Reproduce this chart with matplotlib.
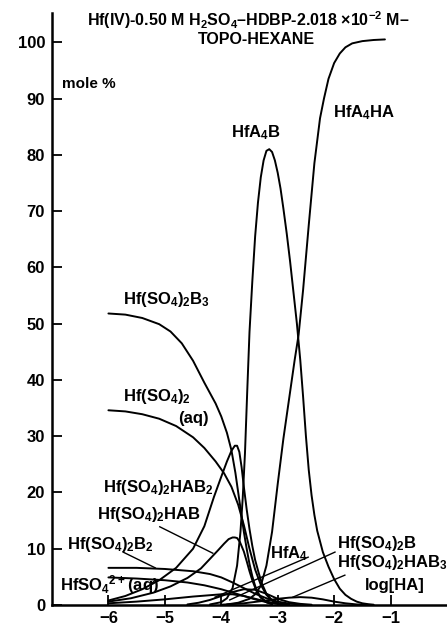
import matplotlib
matplotlib.use('Agg')
import matplotlib.pyplot as plt

plt.rcParams['font.family'] = ['Liberation Sans', 'DejaVu Sans']
plt.rcParams['font.weight'] = 'bold'
plt.rcParams['mathtext.fontset'] = 'custom'
plt.rcParams['mathtext.rm'] = 'Liberation Sans:bold'
plt.rcParams['mathtext.default'] = 'regular'

# species distribution vs log[HA], mole %
x_b3 = [-6.0, -5.7, -5.4, -5.1, -4.9, -4.7, -4.5, -4.3, -4.1, -4.0, -3.9, -3.82, -3.75, -3.7,
        -3.65, -3.6, -3.55, -3.5, -3.45, -3.4, -3.35, -3.3, -3.2, -3.1]
y_b3 = [51.8, 51.6, 51.0, 49.9, 48.6, 46.5, 43.4, 39.5, 35.8, 33.5, 30.6, 27.5, 23.5, 20.0,
        16.5, 13.0, 10.0, 7.3, 5.1, 3.4, 2.2, 1.4, 0.5, 0.15]

x_aq = [-6.0, -5.7, -5.4, -5.1, -4.8, -4.5, -4.3, -4.1, -3.95, -3.82, -3.7, -3.6, -3.5, -3.4,
        -3.3, -3.2, -3.1, -3.0]
y_aq = [34.6, 34.4, 33.9, 33.1, 31.8, 29.8, 27.9, 25.5, 23.4, 21.0, 17.8, 14.2, 10.0, 6.3,
        3.6, 1.8, 0.8, 0.3]

x_a4b = [-4.2, -4.0, -3.9, -3.8, -3.72, -3.66, -3.62, -3.58, -3.54, -3.5, -3.45, -3.4, -3.35,
         -3.3, -3.25, -3.2, -3.15, -3.1, -3.05, -3.0, -2.95, -2.9, -2.84, -2.78, -2.72, -2.66,
         -2.6, -2.55, -2.5, -2.45, -2.4, -2.35, -2.3, -2.2, -2.1, -2.0, -1.9, -1.8, -1.7, -1.6,
         -1.5, -1.4, -1.3]
y_a4b = [0.1, 0.5, 1.2, 3.0, 7.0, 13.0, 19.0, 27.0, 38.0, 48.5, 57.5, 65.5, 71.5,
         76.0, 79.0, 80.7, 81.0, 80.5, 79.0, 76.8, 74.0, 70.5, 66.0, 61.0, 55.5, 50.0,
         43.5, 37.0, 30.0, 24.0, 19.5, 16.0, 13.2, 9.4, 6.8, 4.6, 2.9, 1.8, 1.1, 0.6,
         0.3, 0.15, 0.05]

x_a4ha = [-3.9, -3.7, -3.5, -3.4, -3.3, -3.2, -3.1, -3.0, -2.9, -2.8, -2.7, -2.63, -2.55,
          -2.45, -2.35, -2.25, -2.18, -2.1, -2.0, -1.9, -1.8, -1.68, -1.5, -1.3, -1.1]
y_a4ha = [0.1, 0.4, 1.1, 1.9, 3.4, 7.0, 13.0, 21.5, 29.5, 36.5, 43.5, 48.0, 56.0,
          67.5, 78.5, 86.5, 90.0, 93.5, 96.3, 98.0, 99.1, 99.8, 100.2, 100.4, 100.5]

x_hab2 = [-6.0, -5.7, -5.4, -5.1, -4.8, -4.5, -4.3, -4.13, -4.0, -3.9, -3.82, -3.76, -3.72,
          -3.68, -3.64, -3.6, -3.55, -3.5, -3.45, -3.4, -3.34, -3.28, -3.2, -3.1, -3.0]
y_hab2 = [0.8, 1.6, 2.8, 4.4, 6.6, 10.0, 14.0, 19.2, 22.8, 25.5, 27.4, 28.3, 28.3,
          27.2, 24.5, 21.0, 17.0, 13.5, 10.5, 8.0, 5.8, 3.8, 2.0, 0.8, 0.3]

x_hab = [-6.0, -5.6, -5.2, -4.9, -4.6, -4.36, -4.2, -4.05, -3.95, -3.87, -3.8, -3.76, -3.72,
         -3.67, -3.6, -3.55, -3.5, -3.45, -3.4, -3.35, -3.3, -3.2, -3.1]
y_hab = [0.6, 1.2, 2.2, 3.3, 4.8, 6.5, 8.2, 9.8, 10.9, 11.7, 12.0, 12.0, 11.9,
         11.2, 9.5, 7.8, 6.0, 4.4, 3.1, 2.0, 1.3, 0.5, 0.15]

x_b2 = [-6.0, -5.5, -5.0, -4.5, -4.2, -4.0, -3.8, -3.6, -3.4, -3.2, -3.0, -2.8, -2.6]
y_b2 = [6.6, 6.6, 6.4, 6.0, 5.5, 4.9, 4.0, 3.0, 2.0, 1.2, 0.6, 0.25, 0.1]

x_so4 = [-6.0, -5.5, -5.0, -4.6, -4.3, -4.0, -3.8, -3.6, -3.4, -3.2, -3.0, -2.8]
y_so4 = [4.9, 4.7, 4.4, 4.0, 3.5, 2.8, 2.2, 1.6, 1.0, 0.5, 0.2, 0.05]

x_a4 = [-4.6, -4.4, -4.2, -4.0, -3.8, -3.6, -3.4, -3.2, -3.0, -2.8, -2.6, -2.4]
y_a4 = [0.1, 0.4, 0.9, 1.6, 2.3, 2.8, 2.7, 2.0, 1.1, 0.5, 0.2, 0.05]

x_b = [-6.0, -5.5, -5.0, -4.5, -4.0, -3.8, -3.6, -3.4, -3.2, -3.0, -2.8]
y_b = [0.3, 0.6, 1.0, 1.5, 1.9, 1.9, 1.6, 1.1, 0.6, 0.25, 0.1]

x_hab3 = [-4.0, -3.6, -3.2, -3.0, -2.8, -2.6, -2.4, -2.2, -2.0, -1.8, -1.6, -1.4]
y_hab3 = [0.05, 0.3, 0.8, 1.1, 1.3, 1.4, 1.3, 1.0, 0.6, 0.3, 0.1, 0.03]

xticks = [-6, -5, -4, -3, -2, -1]
yticks = [0, 10, 20, 30, 40, 50, 60, 70, 80, 90, 100]

fig = plt.figure(figsize=(4.47, 6.27), dpi=100)
ax = fig.add_axes([0.1163, 0.0351, 0.8837, 0.9442])

lw = 1.4
for xs, ys in [(x_b3, y_b3), (x_aq, y_aq), (x_a4b, y_a4b), (x_a4ha, y_a4ha),
               (x_hab2, y_hab2), (x_hab, y_hab), (x_b2, y_b2), (x_so4, y_so4),
               (x_a4, y_a4), (x_b, y_b), (x_hab3, y_hab3)]:
    ax.plot(xs, ys, color='black', linewidth=lw, solid_capstyle='round')

ax.set_xlim(-7, 0)
ax.set_ylim(0, 105.2)
ax.spines['top'].set_visible(False)
ax.spines['right'].set_visible(False)
ax.spines['left'].set_linewidth(1.8)
ax.spines['bottom'].set_linewidth(1.8)
ax.set_xticks(xticks)
ax.set_xticklabels(['\u2212%d' % abs(t) for t in xticks])
ax.set_yticks(yticks)
ax.tick_params(axis='both', direction='in', length=7, width=1.3, labelsize=12)
ax.tick_params(axis='y', pad=5)
ax.tick_params(axis='x', pad=4)

fs = 12
ax.text(-6.82, 92.6, 'mole %', fontsize=11, ha='left', va='center')
ax.text(-3.53, 103.9, r'Hf(IV)-0.50 M H$_2$SO$_4$–HDBP-2.018 ×10$^{-2}$ M–',
        fontsize=11.5, ha='center', va='center', clip_on=False)
ax.text(-3.37, 100.5, 'TOPO-HEXANE', fontsize=11.5, ha='center', va='center')
ax.text(-3.385, 83.9, r'HfA$_4$B', fontsize=fs, ha='center', va='center')
ax.text(-1.47, 87.4, r'HfA$_4$HA', fontsize=fs, ha='center', va='center')
ax.text(-5.74, 54.2, r'Hf(SO$_4$)$_2$B$_3$', fontsize=fs, ha='left', va='center')
ax.text(-5.74, 37.0, r'Hf(SO$_4$)$_2$', fontsize=fs, ha='left', va='center')
ax.text(-4.5, 33.2, '(aq)', fontsize=fs, ha='center', va='center')
ax.text(-6.10, 20.8, r'Hf(SO$_4$)$_2$HAB$_2$', fontsize=fs, ha='left', va='center')
ax.text(-6.20, 16.0, r'Hf(SO$_4$)$_2$HAB', fontsize=fs, ha='left', va='center')
ax.text(-6.73, 10.7, r'Hf(SO$_4$)$_2$B$_2$', fontsize=fs, ha='left', va='center')
ax.text(-6.86, 3.6, r'HfSO$_4$$^{2+}$(aq)', fontsize=fs, ha='left', va='center')
ax.text(-3.14, 9.2, r'HfA$_4$', fontsize=fs, ha='left', va='center')
ax.text(-1.95, 11.0, r'Hf(SO$_4$)$_2$B', fontsize=fs, ha='left', va='center')
ax.text(-1.95, 7.5, r'Hf(SO$_4$)$_2$HAB$_3$', fontsize=fs, ha='left', va='center',
        clip_on=False)
ax.text(-1.45, 3.4, 'log[HA]', fontsize=fs, ha='left', va='center')

# leader lines from labels to their curves
leaders = [((-5.09, 13.9), (-4.15, 9.2)),
           ((-5.74, 9.4), (-5.17, 6.6)),
           ((-5.26, 3.6), (-5.17, 4.4)),
           ((-2.46, 8.5), (-4.11, 1.4)),
           ((-1.985, 9.4), (-3.85, 0.9)),
           ((-1.81, 5.3), (-2.73, 1.4))]
for (x0, y0), (x1, y1) in leaders:
    ax.plot([x0, x1], [y0, y1], color='black', linewidth=1.0)

fig.savefig('out.png', dpi=100)
